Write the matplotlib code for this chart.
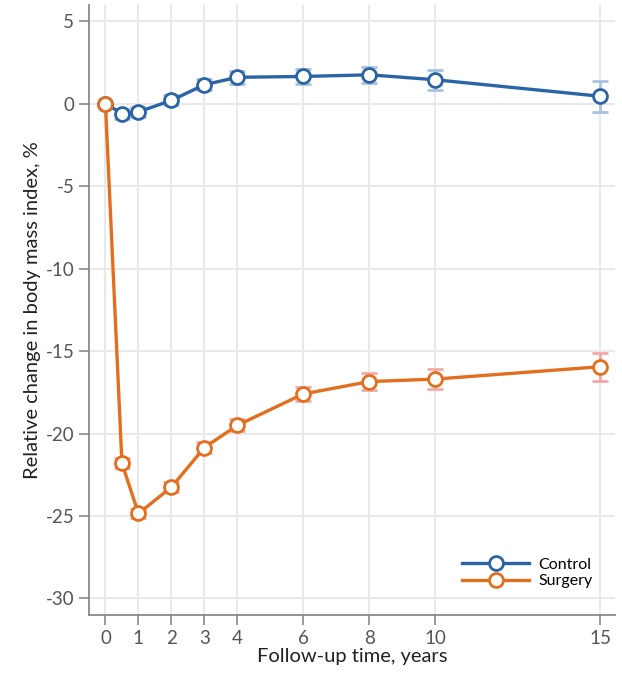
import matplotlib
matplotlib.use('Agg')
import matplotlib.pyplot as plt

plt.rcParams['font.family'] = ['Lato', 'DejaVu Sans']
plt.rcParams['axes.unicode_minus'] = False

years = [0, 0.5, 1, 2, 3, 4, 6, 8, 10, 15]
control = [0, -0.6, -0.5, 0.2, 1.15, 1.6, 1.65, 1.75, 1.45, 0.45]
control_err = [0, 0.3, 0.3, 0.3, 0.35, 0.4, 0.45, 0.5, 0.6, 0.95]
surgery = [0, -21.8, -24.85, -23.25, -20.85, -19.5, -17.6, -16.85, -16.7, -15.95]
surgery_err = [0, 0.3, 0.3, 0.3, 0.35, 0.35, 0.45, 0.5, 0.6, 0.85]
xticks = [0, 1, 2, 3, 4, 6, 8, 10, 15]
yticks = [5, 0, -5, -10, -15, -20, -25, -30]

blue = '#2b64a6'
orange = '#e36f1e'

fig = plt.figure(figsize=(6.22, 6.75), dpi=100)
ax = fig.add_axes([0.143, 0.089, 0.846, 0.904])

ax.errorbar(years, control, yerr=control_err, fmt='none', ecolor='#a8c2df',
            elinewidth=2, capsize=6, capthick=2, zorder=2)
ax.errorbar(years, surgery, yerr=surgery_err, fmt='none', ecolor='#f2aaa9',
            elinewidth=2, capsize=6, capthick=2, zorder=2)
ax.plot(years, control, color=blue, lw=2.4, marker='o', ms=10, mfc='white',
        mec=blue, mew=2, label='Control', zorder=3)
ax.plot(years, surgery, color=orange, lw=2.4, marker='o', ms=10, mfc='white',
        mec=orange, mew=2, label='Surgery', zorder=4)

ax.set_xlim(-0.5, 15.45)
ax.set_ylim(-31, 6)
ax.set_xticks(xticks)
ax.set_yticks(yticks)
ax.grid(True, color='#e9e9e9', lw=1.5)
ax.set_axisbelow(True)
for s in ['top', 'right']:
    ax.spines[s].set_visible(False)
for s in ['left', 'bottom']:
    ax.spines[s].set_color('#8a8a8a')
    ax.spines[s].set_linewidth(1.3)
ax.tick_params(colors='#8a8a8a', labelcolor='#555555', labelsize=13.5, length=7, width=1.2)

ax.set_xlabel('Follow-up time, years', fontsize=14.5, color='#222222', labelpad=1)
ax.set_ylabel('Relative change in body mass index, %', fontsize=14.5, color='#222222', labelpad=3)

ax.legend(loc='lower right', frameon=False, handlelength=4.2, fontsize=11.5,
          labelspacing=0.15, handletextpad=0.6, bbox_to_anchor=(0.985, 0.02))

fig.savefig('out.png', dpi=100)
